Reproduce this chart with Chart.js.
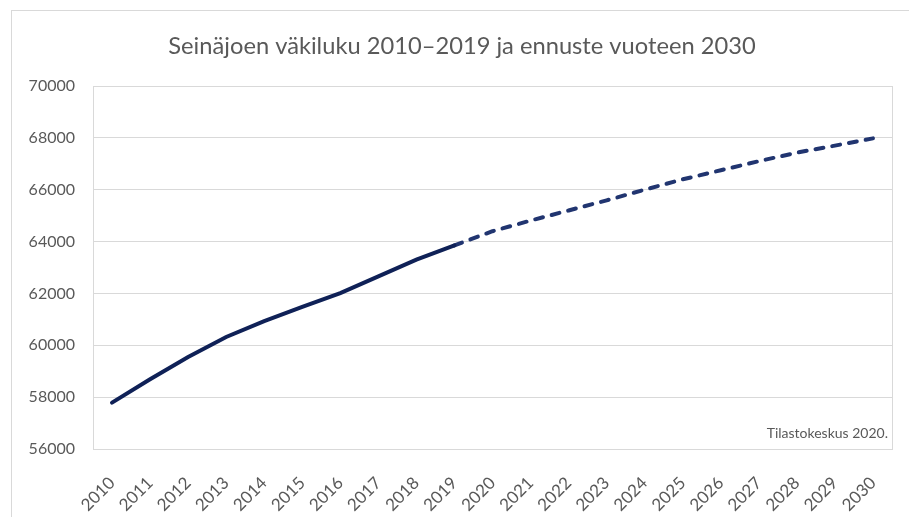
<!DOCTYPE html>
<html>
  <head>
    <meta charset="utf-8">
    <title>Seinäjoen väkiluku</title>
    <script src="https://cdn.jsdelivr.net/npm/chart.js@4.4.1/dist/chart.umd.min.js"></script>
    <style>
      html, body { margin: 0; padding: 0; background: #fff; }
      #wrap { width: 909px; height: 517px; position: relative; }
    </style>
  </head>
  <body>
    <div id="wrap">
      <canvas id="chart"></canvas>
    </div>
    <script>
      // years on the x axis
      var years = ['2010','2011','2012','2013','2014','2015','2016','2017','2018','2019',
                   '2020','2021','2022','2023','2024','2025','2026','2027','2028','2029','2030'];
      // population 2010-2019 (actual)
      var actual = [57790, 58690, 59550, 60320, 60930, 61480, 62010, 62660, 63300, 63850,
                    null, null, null, null, null, null, null, null, null, null, null];
      // forecast 2019-2030
      var forecast = [null, null, null, null, null, null, null, null, null, 63850,
                      64400, 64810, 65200, 65590, 66000, 66400, 66750, 67100, 67430, 67700, 67980];
      var yTicks = [56000, 58000, 60000, 62000, 64000, 66000, 68000, 70000];
      var titleText = 'Seinäjoen väkiluku 2010–2019 ja ennuste vuoteen 2030';
      var sourceText = 'Tilastokeskus 2020.';

      var frame = {
        id: 'frame',
        afterDraw: function (chart) {
          var c = chart.ctx, a = chart.chartArea;
          c.save();
          c.strokeStyle = '#d9d9d9';
          c.lineWidth = 1;
          // outer chart frame
          c.strokeRect(11.5, 10.5, 1000, 1000);
          // right edge of plot area
          c.beginPath();
          c.moveTo(Math.round(a.right) + 0.5, a.top);
          c.lineTo(Math.round(a.right) + 0.5, a.bottom);
          c.stroke();
          c.fillStyle = '#595959';
          // title (sits a bit right of the canvas centre like the original)
          c.font = '23.7px Lato';
          c.textAlign = 'center';
          c.textBaseline = 'middle';
          c.fillText(titleText, 462, 46);
          // source note
          c.font = '14px Lato';
          c.textAlign = 'right';
          c.textBaseline = 'alphabetic';
          c.fillText(sourceText, a.right - 4, a.bottom - 11);
          c.restore();
        }
      };

      var ctx = document.getElementById('chart').getContext('2d');
      var chart = new Chart(ctx, {
        type: 'line',
        data: {
          labels: years,
          datasets: [{
            label: 'Väkiluku',
            data: actual,
            borderColor: '#0f2157',
            borderWidth: 4,
            borderCapStyle: 'round',
            pointRadius: 0,
            tension: 0
          }, {
            label: 'Ennuste',
            data: forecast,
            borderColor: '#213570',
            borderWidth: 4,
            borderDash: [8, 9],
            borderCapStyle: 'round',
            pointRadius: 0,
            tension: 0
          }]
        },
        options: {
          responsive: true,
          maintainAspectRatio: false,
          animation: false,
          layout: { padding: { left: 0, right: 17, top: 86, bottom: 0 } },
          plugins: {
            legend: { display: false },
            tooltip: { enabled: false },
            title: { display: false }
          },
          scales: {
            x: {
              offset: true,
              grid: { display: false },
              border: { display: true, color: '#d9d9d9' },
              ticks: {
                color: '#595959',
                font: { family: 'Lato', size: 17 },
                minRotation: 45,
                maxRotation: 45,
                padding: 16
              },
              afterFit: function (s) { s.height = 68; }
            },
            y: {
              min: 56000,
              max: 70000,
              afterBuildTicks: function (s) {
                s.ticks = yTicks.map(function (v) { return { value: v }; });
              },
              grid: { color: '#d9d9d9', drawTicks: false },
              border: { display: true, color: '#d9d9d9' },
              ticks: {
                color: '#595959',
                font: { family: 'Lato', size: 16 },
                padding: 18,
                callback: function (v) { return String(v); }
              },
              afterFit: function (s) { s.width = 93; }
            }
          }
        },
        plugins: [frame]
      });
    </script>
  </body>
</html>
